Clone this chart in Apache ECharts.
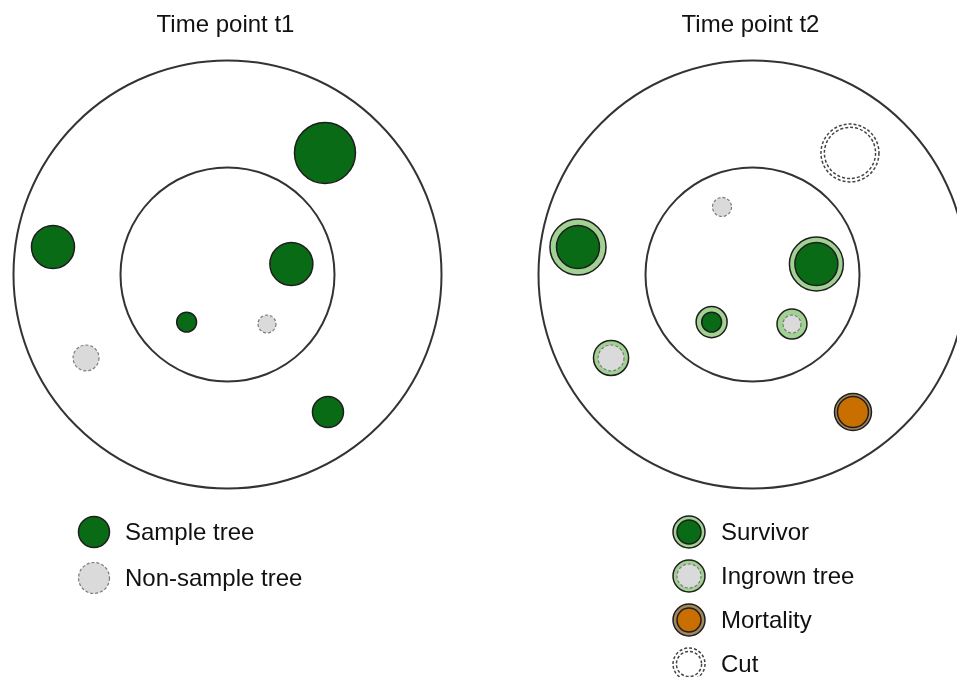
<!DOCTYPE html>
<html><head><meta charset="utf-8">
<script src="https://cdn.jsdelivr.net/npm/echarts@6/dist/echarts.min.js"></script>
<style>html,body{margin:0;padding:0;background:#fff}#c{width:957px;height:677px}</style>
</head><body><div id="c"></div>
<script>
// ---- data (plot units, plot centre = 0,0) ----
const panelTitles = ['Time point t1', 'Time point t2'];
const plotRadii = [20, 10];
const treeX = [9.11, -16.31, 5.97, -3.82, 3.69, -13.22, 9.39, -2.85];
const treeY = [11.36, 2.57, 0.98, -4.45, -4.63, -7.80, -12.85, 6.31];
const radiusT1 = [2.85, 2.01, 2.01, 0.93, 0.84, 1.21, 1.45, null];
const radiusT2 = [2.71, 2.62, 2.52, 1.45, 1.40, 1.64, 1.73, 0.89];
const typeT1 = ['sample', 'sample', 'sample', 'sample', 'nonsample', 'nonsample', 'sample', null];
const typeT2 = ['cut', 'survivor', 'survivor', 'survivor', 'ingrown', 'ingrown', 'mortality', 'nonsample'];
const legendT1Labels = ['Sample tree', 'Non-sample tree'];
const legendT1Types = ['sample', 'nonsample'];
const legendT2Labels = ['Survivor', 'Ingrown tree', 'Mortality', 'Cut'];
const legendT2Types = ['survivor', 'ingrown', 'mortality', 'cut'];

// ---- styles ----
const DG = '#0a6b16', LG = '#a1d293', GREY = '#dadada', ORANGE = '#c96f00', TAN = '#a4875c';
const STROKE = '#1e1e1e';
function circ(cx, cy, r, style) {
  return { type: 'circle', shape: { cx: cx, cy: cy, r: r }, style: style };
}
function treeShapes(type, cx, cy, rO, rI) {
  const solid = (fill) => ({ fill: fill, stroke: STROKE, lineWidth: 1.5 });
  const dashed = { fill: GREY, stroke: '#7a7a7a', lineWidth: 1.2, lineDash: [3, 2] };
  const cutSt = { fill: null, stroke: '#444', lineWidth: 1.5, lineDash: [3, 2] };
  switch (type) {
    case 'sample': return [circ(cx, cy, rO, solid(DG))];
    case 'nonsample': return [circ(cx, cy, rO, dashed)];
    case 'survivor': return [circ(cx, cy, rO, solid(LG)), circ(cx, cy, rI, solid(DG))];
    case 'ingrown': return [circ(cx, cy, rO, solid(LG)), circ(cx, cy, rI, dashed)];
    case 'mortality': return [circ(cx, cy, rO, solid(TAN)), circ(cx, cy, rI, solid(ORANGE))];
    case 'cut': return [circ(cx, cy, rO, cutSt), circ(cx, cy, rO - 3.4, cutSt)];
  }
  return [];
}

const t1Data = [], t2Data = [];
for (let i = 0; i < treeX.length; i++) {
  if (typeT1[i]) t1Data.push([treeX[i], treeY[i], radiusT1[i], i]);
  if (typeT2[i]) t2Data.push([treeX[i], treeY[i], radiusT2[i], i]);
}

function renderPlot(params, api) {
  const c = api.coord([0, 0]);
  const r = api.size([api.value(0), 0])[0];
  return circ(c[0], c[1], r, { fill: null, stroke: '#333', lineWidth: 2 });
}
function renderT1(params, api) {
  const c = api.coord([api.value(0), api.value(1)]);
  const r = api.size([api.value(2), 0])[0];
  const i = api.value(3);
  return { type: 'group', children: treeShapes(typeT1[i], c[0], c[1], r, r) };
}
function renderT2(params, api) {
  const c = api.coord([api.value(0), api.value(1)]);
  const r = api.size([api.value(2), 0])[0];
  const i = api.value(3);
  const rI = radiusT1[i] != null ? api.size([radiusT1[i], 0])[0] : r;
  return { type: 'group', children: treeShapes(typeT2[i], c[0], c[1], r, rI) };
}

// pixel scale 10.7 px per plot unit
const S = 10.7, CY = 274.5, CX = [227.5, 752.5];
const XR = [[-21, 21], [-21, 19]];
const grids = CX.map((cx, k) => ({
  left: cx + XR[k][0] * S, top: CY - 21 * S,
  width: (XR[k][1] - XR[k][0]) * S, height: 42 * S
}));
const xAx = (g) => ({ type: 'value', gridIndex: g, min: XR[g][0], max: XR[g][1], show: false });
const yAx = (g) => ({ type: 'value', gridIndex: g, min: -21, max: 21, show: false });

const graphics = [];
const FONT = '"Liberation Sans", Arial, sans-serif';
legendT1Labels.forEach((lab, k) => {
  const y = 532 + k * 46;
  graphics.push(...treeShapes(legendT1Types[k], 94, y, 15.5, 15.5));
  graphics.push({ type: 'text', x: 125, y: y + 1, style: { text: lab, font: '24px ' + FONT, fill: '#111', verticalAlign: 'middle' } });
});
legendT2Labels.forEach((lab, k) => {
  const y = 532 + k * 44;
  graphics.push(...treeShapes(legendT2Types[k], 689, y, 16, 12));
  graphics.push({ type: 'text', x: 721, y: y + 1, style: { text: lab, font: '24px ' + FONT, fill: '#111', verticalAlign: 'middle' } });
});

const chart = echarts.init(document.getElementById('c'), null, { renderer: 'canvas' });
chart.setOption({
  backgroundColor: '#fff',
  animation: false,
  title: panelTitles.map((t, k) => ({
    text: t, left: CX[k] - 2, top: 13, padding: 0, textAlign: 'center',
    textStyle: { fontFamily: FONT, fontSize: 24, fontWeight: 'normal', color: '#111' }
  })),
  grid: grids,
  xAxis: [xAx(0), xAx(1)],
  yAxis: [yAx(0), yAx(1)],
  series: [
    { type: 'custom', xAxisIndex: 0, yAxisIndex: 0, data: plotRadii.map(r => [r]), renderItem: renderPlot, silent: true },
    { type: 'custom', xAxisIndex: 1, yAxisIndex: 1, data: plotRadii.map(r => [r]), renderItem: renderPlot, silent: true },
    { type: 'custom', xAxisIndex: 0, yAxisIndex: 0, data: t1Data, renderItem: renderT1, silent: true },
    { type: 'custom', xAxisIndex: 1, yAxisIndex: 1, data: t2Data, renderItem: renderT2, silent: true }
  ],
  graphic: graphics
});
</script></body></html>
